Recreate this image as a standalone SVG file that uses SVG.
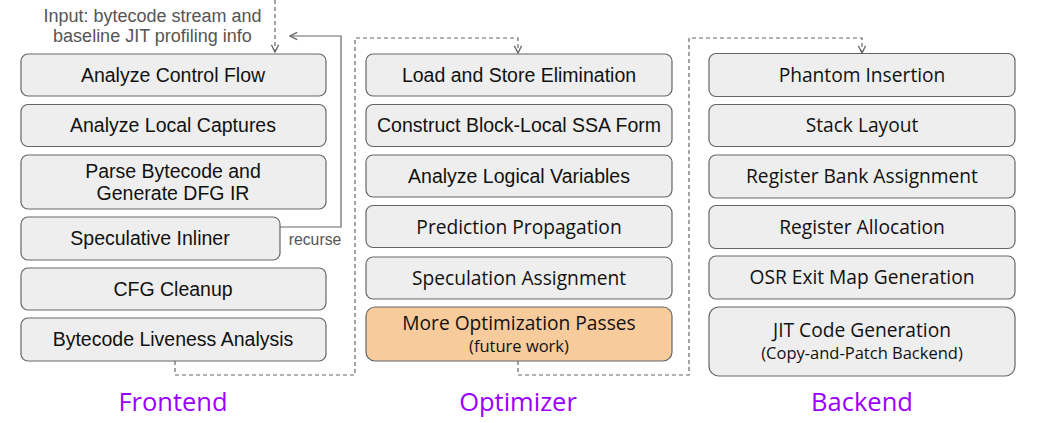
<svg xmlns="http://www.w3.org/2000/svg" width="1039" height="423" viewBox="0 0 1039 423">
<defs>
<style>
.box{fill:#eeeeee;stroke:#666666;stroke-width:1.2}
.orange{fill:#f8cb9c;stroke:#666666;stroke-width:1.2}
.h{font-family:"Liberation Sans",Arial,sans-serif;font-size:19.5px;fill:#111;text-anchor:middle}
.c{font-family:"Open Sans","Noto Sans",sans-serif;font-size:19.2px;fill:#111;text-anchor:middle}
.cs{font-family:"Open Sans","Noto Sans",sans-serif;font-size:16.5px;fill:#111;text-anchor:middle}
.note{font-family:"Liberation Sans",Arial,sans-serif;font-size:18px;fill:#555;text-anchor:middle}
.lbl{font-family:"Open Sans","Noto Sans",sans-serif;font-size:25.5px;fill:#9b00ff;text-anchor:middle}
.dash{fill:none;stroke:#666;stroke-width:1.2;stroke-dasharray:4,3}
.solid{fill:none;stroke:#666;stroke-width:1.2}
</style>
<marker id="arr" viewBox="0 0 10 10" refX="9" refY="5" markerWidth="9" markerHeight="9" markerUnits="userSpaceOnUse" orient="auto">
<path d="M1,1 L9,5 L1,9" fill="none" stroke="#666" stroke-width="1.5"/>
</marker>
</defs>
<rect width="1039" height="423" fill="#ffffff"/>

<g id="connectors">
<path class="dash" d="M275,0 V52" marker-end="url(#arr)"/>
<path class="solid" d="M280,227 H341 V36 H290" marker-end="url(#arr)"/>
<path class="dash" d="M175,361 V375 H355 V38 H518 V53" marker-end="url(#arr)"/>
<path class="dash" d="M518,361 V375 H689 V38 H862 V53" marker-end="url(#arr)"/>
</g>

<g id="input-note">
<text class="note" x="152.5" y="22">Input: bytecode stream and</text>
<text class="note" x="152.5" y="42">baseline JIT profiling info</text>
</g>
<g id="recurse-label"><text class="note" x="315" y="245" style="font-size:15.8px">recurse</text></g>

<g id="f1"><rect class="box" x="21" y="54" width="305" height="42" rx="7"/><text class="h" x="173" y="82">Analyze Control Flow</text></g>
<g id="f2"><rect class="box" x="21" y="104.5" width="305" height="42" rx="7"/><text class="h" x="173" y="132">Analyze Local Captures</text></g>
<g id="f3"><rect class="box" x="21" y="155" width="305" height="54" rx="7"/><text class="h" x="173" y="178">Parse Bytecode and</text><text class="h" x="173" y="200">Generate DFG IR</text></g>
<g id="f4"><rect class="box" x="21" y="217" width="259" height="43" rx="7"/><text class="h" x="150" y="245">Speculative Inliner</text></g>
<g id="f5"><rect class="box" x="21" y="268" width="305" height="42" rx="7"/><text class="h" x="173" y="296">CFG Cleanup</text></g>
<g id="f6"><rect class="box" x="21" y="318" width="305" height="43" rx="7"/><text class="h" x="173" y="346">Bytecode Liveness Analysis</text></g>

<g id="o1"><rect class="box" x="366" y="54" width="306" height="42" rx="7"/><text class="h" x="519" y="82">Load and Store Elimination</text></g>
<g id="o2"><rect class="box" x="366" y="104.5" width="306" height="42" rx="7"/><text class="h" x="519" y="132">Construct Block-Local SSA Form</text></g>
<g id="o3"><rect class="box" x="366" y="155" width="306" height="42" rx="7"/><text class="h" x="519" y="183">Analyze Logical Variables</text></g>
<g id="o4"><rect class="box" x="366" y="205.5" width="306" height="42" rx="7"/><text class="c" x="519" y="234">Prediction Propagation</text></g>
<g id="o5"><rect class="box" x="366" y="257" width="306" height="42" rx="7"/><text class="c" x="519" y="285">Speculation Assignment</text></g>
<g id="o6"><rect class="orange" x="366" y="307" width="306" height="54" rx="9"/><text class="c" x="519" y="329.5">More Optimization Passes</text><text class="cs" x="519" y="352">(future work)</text></g>

<g id="b1"><rect class="box" x="709" y="53.5" width="306" height="43" rx="7"/><text class="c" x="862" y="82">Phantom Insertion</text></g>
<g id="b2"><rect class="box" x="709" y="104.5" width="306" height="42" rx="7"/><text class="c" x="862" y="132">Stack Layout</text></g>
<g id="b3"><rect class="box" x="709" y="155" width="306" height="43" rx="7"/><text class="c" x="862" y="183">Register Bank Assignment</text></g>
<g id="b4"><rect class="box" x="709" y="205.5" width="306" height="43" rx="7"/><text class="c" x="862" y="234">Register Allocation</text></g>
<g id="b5"><rect class="box" x="709" y="256" width="306" height="43" rx="7"/><text class="c" x="862" y="284">OSR Exit Map Generation</text></g>
<g id="b6"><rect class="box" x="709" y="307" width="306" height="69" rx="10"/><text class="c" x="862" y="336.5">JIT Code Generation</text><text class="cs" x="862" y="359">(Copy-and-Patch Backend)</text></g>

<g id="section-labels">
<text class="lbl" x="173" y="411">Frontend</text>
<text class="lbl" x="518" y="411">Optimizer</text>
<text class="lbl" x="862" y="411">Backend</text>
</g>
</svg>
